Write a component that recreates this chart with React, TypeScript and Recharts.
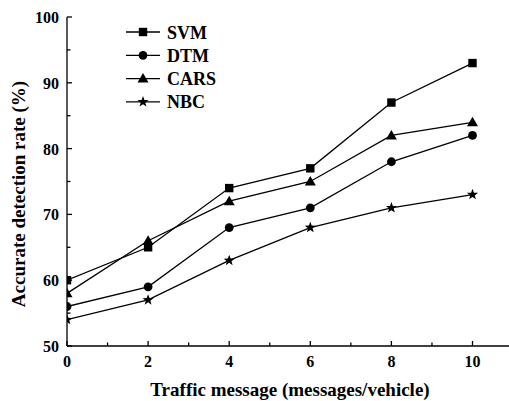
import { LineChart, Line, XAxis, YAxis, Legend, Label } from "recharts";

const X_VALUES = [0, 2, 4, 6, 8, 10];
const SVM = [60, 65, 74, 77, 87, 93];
const DTM = [56, 59, 68, 71, 78, 82];
const CARS = [58, 66, 72, 75, 82, 84];
const NBC = [54, 57, 63, 68, 71, 73];

const X_TICKS = [0, 1, 2, 3, 4, 5, 6, 7, 8, 9, 10];
const X_LABELS = [0, 2, 4, 6, 8, 10];
const Y_TICKS = [50, 55, 60, 65, 70, 75, 80, 85, 90, 95, 100];
const Y_LABELS = [50, 60, 70, 80, 90, 100];

const SERIES = ["SVM", "DTM", "CARS", "NBC"];
const SHAPES: Record<string, string> = { SVM: "square", DTM: "circle", CARS: "triangle", NBC: "star" };

const FONT = '"Liberation Serif", "Times New Roman", serif';

const data = X_VALUES.map((x, i) => ({
  x,
  SVM: SVM[i],
  DTM: DTM[i],
  CARS: CARS[i],
  NBC: NBC[i],
}));

function Marker({ kind, cx, cy }: { kind: string; cx: number; cy: number }) {
  if (kind === "square") {
    return <rect x={cx - 4.2} y={cy - 4.2} width={8.4} height={8.4} fill="#000" />;
  }
  if (kind === "circle") {
    return <circle cx={cx} cy={cy} r={4.4} fill="#000" />;
  }
  if (kind === "triangle") {
    return (
      <polygon
        points={`${cx},${cy - 5.5} ${cx + 5.5},${cy + 4} ${cx - 5.5},${cy + 4}`}
        fill="#000"
      />
    );
  }
  const pts: string[] = [];
  for (let k = 0; k < 10; k++) {
    const r = k % 2 === 0 ? 5.8 : 2.4;
    const a = -Math.PI / 2 + (k * Math.PI) / 5;
    pts.push(`${cx + r * Math.cos(a)},${cy + r * Math.sin(a)}`);
  }
  return <polygon points={pts.join(" ")} fill="#000" />;
}

const XTick = (props: any) => {
  const { x, y, payload } = props;
  const major = X_LABELS.includes(payload.value);
  return (
    <g>
      <line x1={x} x2={x} y1={y} y2={y - (major ? 5 : 3.5)} stroke="#000" strokeWidth={1.3} />
      {major && (
        <text x={x} y={y + 21} textAnchor="middle" fontFamily={FONT} fontWeight="bold" fontSize={16} fill="#000">
          {payload.value}
        </text>
      )}
    </g>
  );
};

const YTick = (props: any) => {
  const { x, y, payload } = props;
  const major = Y_LABELS.includes(payload.value);
  return (
    <g>
      <line x1={x} x2={x + (major ? 5 : 3.5)} y1={y} y2={y} stroke="#000" strokeWidth={1.3} />
      {major && (
        <text x={x - 8} y={y + 6} textAnchor="end" fontFamily={FONT} fontWeight="bold" fontSize={16} fill="#000">
          {payload.value}
        </text>
      )}
    </g>
  );
};

// legend rows in the series order of the figure
const LegendBox = () => (
  <svg width={260} height={120}>
    {SERIES.map((name, i) => {
      const cy = 32 + i * 23.3;
      return (
        <g key={name}>
          <line x1={126} x2={160} y1={cy} y2={cy} stroke="#000" strokeWidth={1.3} />
          <Marker kind={SHAPES[name]} cx={143} cy={cy} />
          <text x={167} y={cy + 6.5} fontFamily={FONT} fontWeight="bold" fontSize={18} fill="#000">
            {name}
          </text>
        </g>
      );
    })}
  </svg>
);

export default function App() {
  return (
    <div style={{ position: "absolute", left: 0, top: 0 }}>
      <LineChart width={509} height={401} data={data} margin={{ top: 17, right: 0, left: 0, bottom: 0 }}>
        <XAxis
          dataKey="x"
          type="number"
          domain={[0, 10.9]}
          ticks={X_TICKS}
          interval={0}
          height={55}
          tickSize={0}
          tickMargin={0}
          tickLine={false}
          tick={<XTick />}
          axisLine={{ stroke: "#000", strokeWidth: 1.3 }}
          allowDataOverflow
        >
          <Label
            content={() => (
              <text x={290} y={396} textAnchor="middle" fontFamily={FONT} fontWeight="bold" fontSize={19} fill="#000">
                Traffic message (messages/vehicle)
              </text>
            )}
          />
        </XAxis>
        <YAxis
          type="number"
          domain={[50, 100]}
          ticks={Y_TICKS}
          interval={0}
          width={67}
          tickSize={0}
          tickMargin={0}
          tickLine={false}
          tick={<YTick />}
          axisLine={{ stroke: "#000", strokeWidth: 1.3 }}
        >
          <Label
            content={() => (
              <text
                x={25}
                y={194}
                transform="rotate(-90 25 194)"
                textAnchor="middle"
                fontFamily={FONT}
                fontWeight="bold"
                fontSize={19}
                fill="#000"
              >
                Accurate detection rate (%)
              </text>
            )}
          />
        </YAxis>
        <Legend
          layout="horizontal"
          verticalAlign="middle"
          align="center"
          wrapperStyle={{ position: "absolute", left: 0, top: 0, width: 260, height: 120 }}
          content={<LegendBox />}
        />
        {SERIES.map((name) => (
          <Line
            key={name}
            dataKey={name}
            name={name}
            stroke="#000"
            strokeWidth={1.3}
            isAnimationActive={false}
            dot={(p: any) => <Marker key={`${name}-${p.index}`} kind={SHAPES[name]} cx={p.cx} cy={p.cy} />}
            activeDot={false}
          />
        ))}
      </LineChart>
    </div>
  );
}
